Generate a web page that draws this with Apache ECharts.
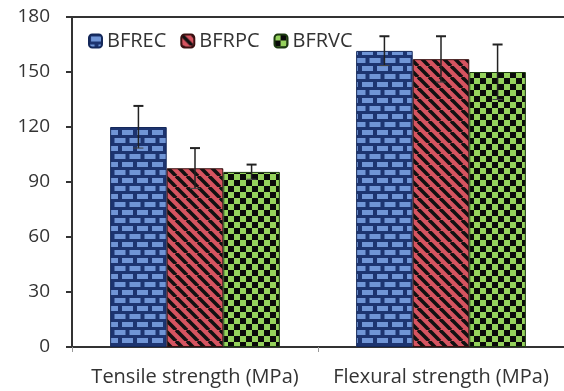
<!DOCTYPE html>
<html>
<head>
<meta charset="utf-8">
<script src="https://cdn.jsdelivr.net/npm/echarts@6/dist/echarts.min.js"></script>
<style>html,body{margin:0;padding:0;background:#fff;}#c{width:564px;height:391px;}</style>
</head>
<body>
<div id="c"></div>
<script>
var categories = ['Tensile strength (MPa)', 'Flexural strength (MPa)'];
var seriesNames = ['BFREC', 'BFRPC', 'BFRVC'];
var BFREC = [120, 161.5];
var BFRPC = [97.5, 157];
var BFRVC = [95.5, 150];
var BFREC_err = [11.5, 8];
var BFRPC_err = [11, 12.5];
var BFRVC_err = [4, 15];
var yTicks = [0, 30, 60, 90, 120, 150, 180];

function brick() {
  var c = document.createElement('canvas'); c.width = 15; c.height = 16;
  var g = c.getContext('2d');
  g.fillStyle = '#1d3470'; g.fillRect(0, 0, 15, 16);
  g.fillStyle = '#7095d6';
  g.fillRect(2, 2, 11, 5);
  g.fillRect(-5.5, 10, 11, 5); g.fillRect(9.5, 10, 11, 5);
  return c;
}
function stripes() {
  var c = document.createElement('canvas'); c.width = 11; c.height = 11;
  var g = c.getContext('2d');
  g.fillStyle = '#d65460'; g.fillRect(0, 0, 11, 11);
  g.strokeStyle = '#111'; g.lineWidth = 3.6;
  for (var k = -22; k <= 22; k += 11) {
    g.beginPath(); g.moveTo(k, 0); g.lineTo(k + 11, 11); g.stroke();
  }
  return c;
}
function checker() {
  var c = document.createElement('canvas'); c.width = 12; c.height = 12;
  var g = c.getContext('2d');
  g.fillStyle = '#0a0a0a'; g.fillRect(0, 0, 12, 12);
  g.fillStyle = '#95d25c';
  g.fillRect(0, 0, 6, 6); g.fillRect(6, 6, 6, 6);
  return c;
}
var patterns = [brick(), stripes(), checker()];
var borders = ['#14285a', '#3a1010', '#1c3a10'];
var values = [BFREC, BFRPC, BFRVC];
var errs = [BFREC_err, BFRPC_err, BFRVC_err];
var gapPct = 0.31;

var series = seriesNames.map(function (n, i) {
  return {
    name: n, type: 'bar', data: values[i], barGap: 0, barCategoryGap: (gapPct * 100) + '%',
    itemStyle: { color: { image: patterns[i], repeat: 'repeat' }, borderColor: borders[i], borderWidth: 1 },
    xAxisIndex: 0, yAxisIndex: 0
  };
});
var errData = [];
for (var s = 0; s < 3; s++) for (var k = 0; k < categories.length; k++) {
  errData.push([k, values[s][k] - errs[s][k], values[s][k] + errs[s][k], s]);
}
series.push({
  type: 'custom', name: 'err', silent: true, z: 10,
  encode: { x: 0, y: [1, 2] },
  data: errData,
  renderItem: function (params, api) {
    var band = api.size([1, 0])[0];
    var bw = band * (1 - gapPct) / 3;
    var si = api.value(3);
    var lo = api.coord([api.value(0), api.value(1)]);
    var hi = api.coord([api.value(0), api.value(2)]);
    var x = lo[0] + (si - 1) * bw;
    var cap = 5;
    var st = { stroke: '#222', lineWidth: 1.5 };
    return { type: 'group', children: [
      { type: 'line', shape: { x1: x, y1: lo[1], x2: x, y2: hi[1] }, style: st },
      { type: 'line', shape: { x1: x - cap, y1: hi[1], x2: x + cap, y2: hi[1] }, style: { stroke: '#222', lineWidth: 2 } },
      { type: 'line', shape: { x1: x - cap, y1: lo[1], x2: x + cap, y2: lo[1] }, style: { stroke: '#444', lineWidth: 1 } }
    ] };
  }
});

var chart = echarts.init(document.getElementById('c'));
chart.setOption({
  animation: false,
  backgroundColor: '#fff',
  textStyle: { fontFamily: 'Open Sans' },
  legend: {
    data: seriesNames, left: 83, top: 26, itemWidth: 13, itemHeight: 13, itemGap: 14,
    textStyle: { fontSize: 20, color: '#333', fontFamily: 'Open Sans' }
  },
  grid: { left: 72, top: 17, width: 500, bottom: 44 },
  xAxis: [{
    type: 'category', data: categories, position: 'bottom',
    axisLine: { lineStyle: { color: '#333', width: 2 } },
    axisTick: { show: true, length: 5, lineStyle: { color: '#999' } },
    axisLabel: { fontSize: 20, color: '#333', margin: 20, interval: 0, fontFamily: 'Open Sans' }
  }, {
    type: 'category', data: categories, position: 'top',
    axisLine: { show: true, lineStyle: { color: '#333', width: 2 } },
    axisTick: { show: false }, axisLabel: { show: false }
  }],
  yAxis: {
    type: 'value', min: 0, max: 180, interval: 30,
    axisLine: { show: true, lineStyle: { color: '#333', width: 2 } },
    axisTick: { show: true, length: 6, lineStyle: { color: '#333', width: 2 } },
    splitLine: { show: false },
    axisLabel: { fontSize: 19, color: '#333', margin: 22, fontFamily: 'Open Sans',
      formatter: function (v) { return yTicks.indexOf(v) >= 0 ? String(v) : ''; } }
  },
  series: series
});
</script>
</body>
</html>
